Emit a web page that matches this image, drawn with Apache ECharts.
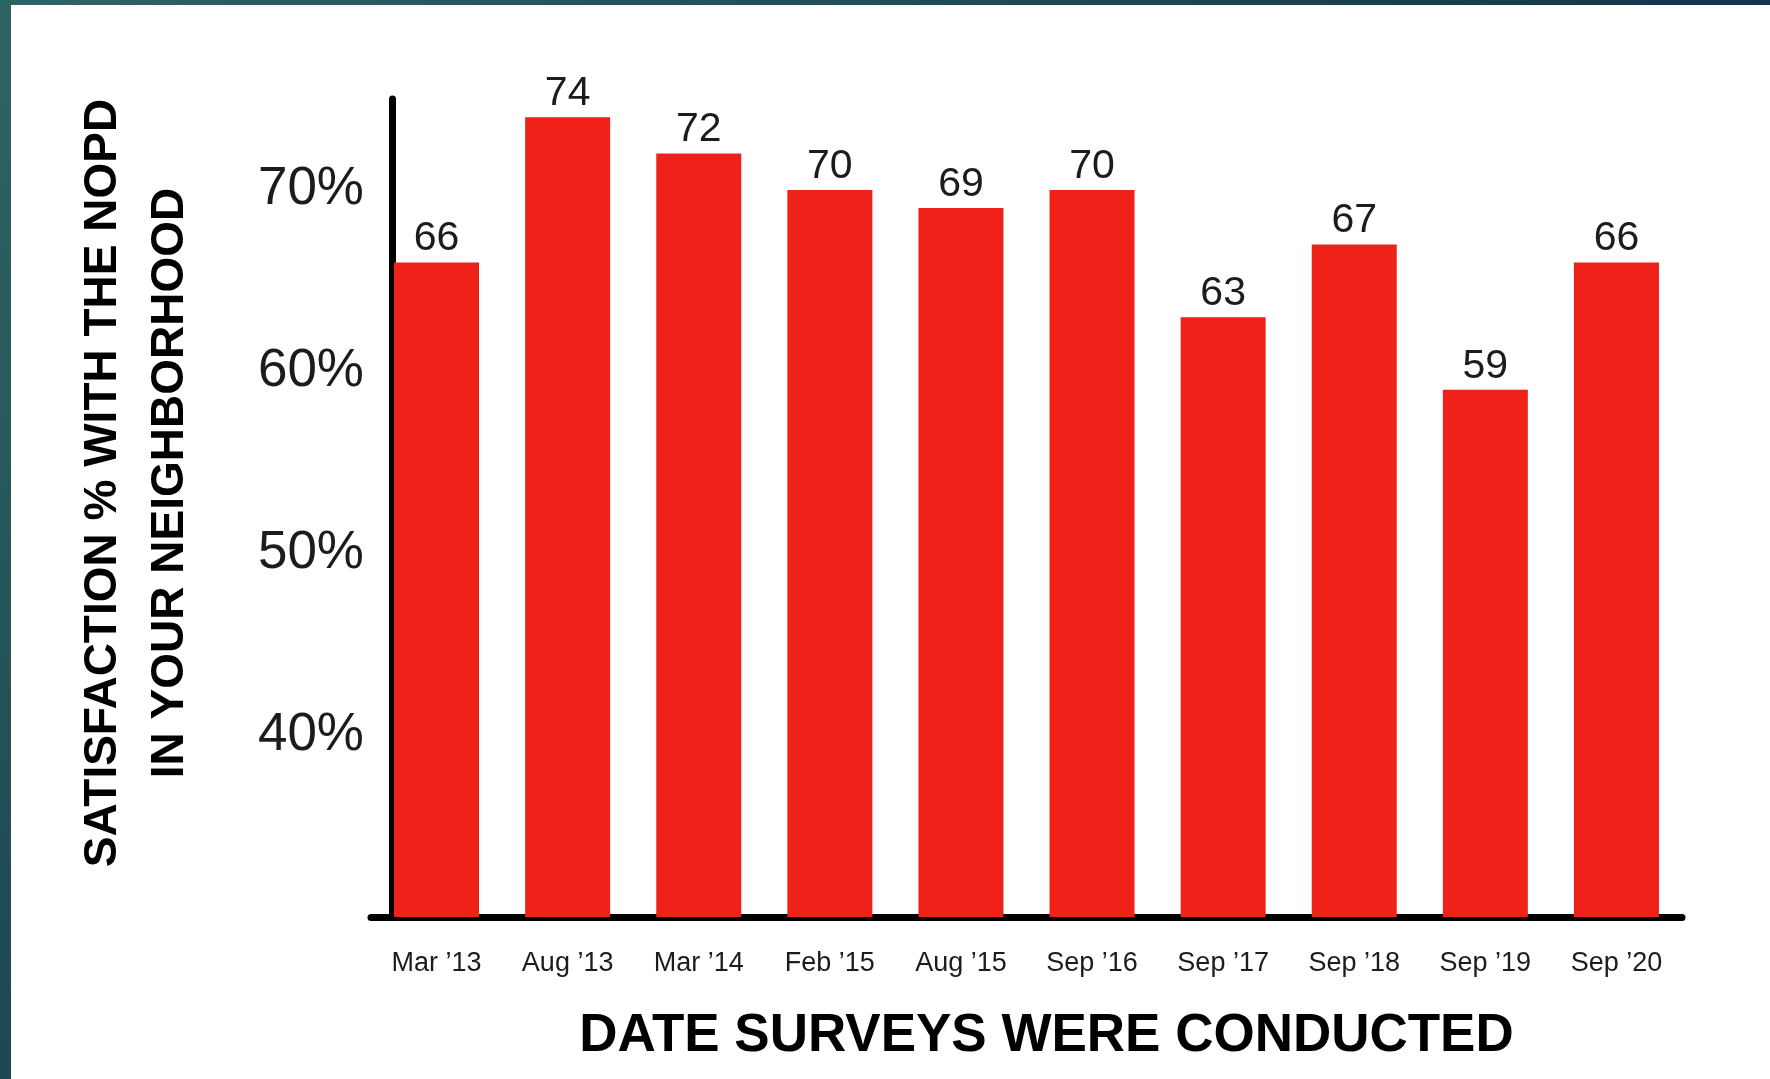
<!DOCTYPE html>
<html>
<head>
<meta charset="utf-8">
<title>Satisfaction with the NOPD</title>
<script src="https://cdn.jsdelivr.net/npm/echarts@6/dist/echarts.min.js"></script>
<style>
  html, body { margin: 0; padding: 0; background: #fff; }
  #chart { width: 1770px; height: 1079px; }
</style>
</head>
<body>
<div id="chart"></div>
<script>
const categories = ['Mar \u201913', 'Aug \u201913', 'Mar \u201914', 'Feb \u201915', 'Aug \u201915',
  'Sep \u201916', 'Sep \u201917', 'Sep \u201918', 'Sep \u201919', 'Sep \u201920']
const satisfaction = [66, 74, 72, 70, 69, 70, 63, 67, 59, 66]
const yTickLabels = [40, 50, 60, 70]

const fontFamily = '"Liberation Sans", Arial, Helvetica, sans-serif'
const textColor = '#1c1c1c'
const barColor = '#ee2219'

const chart = echarts.init(document.getElementById('chart'))

const option = {
  animation: false,
  backgroundColor: '#fff',
  grid: {
    left: 371,
    right: 88,
    top: 99,
    bottom: 162,
    containLabel: false
  },
  // frame strips on the left and top edge
  graphic: [
    {
      type: 'rect',
      z: 100,
      shape: { x: 0, y: 0, width: 11, height: 1079 },
      style: {
        fill: new echarts.graphic.LinearGradient(0, 0, 0, 1, [
          { offset: 0, color: '#2f6464' },
          { offset: 1, color: '#1d4850' }
        ])
      }
    },
    {
      type: 'rect',
      z: 100,
      shape: { x: 0, y: 0, width: 1770, height: 5 },
      style: {
        fill: new echarts.graphic.LinearGradient(0, 0, 1, 0, [
          { offset: 0, color: '#2f6464' },
          { offset: 1, color: '#12364a' }
        ])
      }
    },
    {
      type: 'text',
      x: 137,
      y: 483,
      rotation: Math.PI / 2,
      style: {
        text: 'SATISFACTION % WITH THE NOPD\nIN YOUR NEIGHBORHOOD',
        font: 'bold 46px ' + fontFamily,
        fill: '#000',
        align: 'center',
        verticalAlign: 'middle',
        lineHeight: 67
      }
    }
  ],
  xAxis: {
    type: 'category',
    data: categories,
    axisLine: { show: true, lineStyle: { color: '#000', width: 7 } },
    axisTick: { show: false },
    axisLabel: {
      color: textColor,
      fontSize: 27,
      fontFamily: fontFamily,
      margin: 33,
      interval: 0
    },
    name: 'DATE SURVEYS WERE CONDUCTED',
    nameLocation: 'middle',
    nameGap: 93,
    nameTextStyle: {
      color: '#000',
      fontSize: 53,
      fontWeight: 'bold',
      fontFamily: fontFamily,
      padding: [0, 0, 0, 40]
    }
  },
  yAxis: {
    type: 'value',
    min: 30,
    max: 75,
    interval: 10,
    offset: -21,
    axisLine: { show: true, lineStyle: { color: '#000', width: 7 } },
    axisTick: { show: false },
    splitLine: { show: false },
    axisLabel: {
      color: textColor,
      fontSize: 53,
      fontFamily: fontFamily,
      margin: 28,
      formatter: function (v) {
        return yTickLabels.indexOf(v) >= 0 ? v + '%' : ''
      }
    }
  },
  series: [
    {
      type: 'bar',
      data: satisfaction,
      barWidth: 85,
      itemStyle: { color: barColor },
      label: {
        show: true,
        position: 'top',
        distance: 3,
        color: textColor,
        fontSize: 41,
        fontFamily: fontFamily
      }
    }
  ]
}

chart.setOption(option)
</script>
</body>
</html>
